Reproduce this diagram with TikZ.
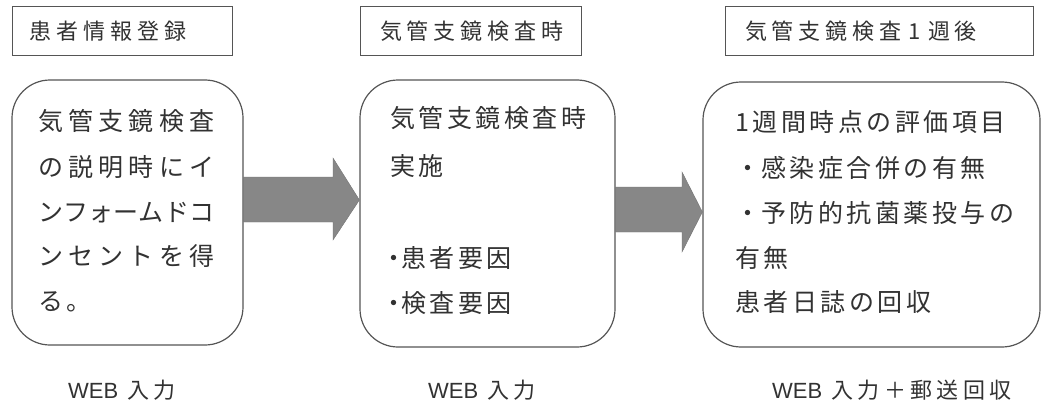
\documentclass[tikz,border=0pt]{standalone}
\usepackage{fontspec}
\newfontfamily\jp{Noto Sans CJK JP}[LetterSpace=14]
\newfontfamily\jpt{Noto Sans CJK JP}[LetterSpace=22]
\newfontfamily\jpn{Noto Sans CJK JP}[LetterSpace=20]
\newfontfamily\lat{Liberation Sans}
\usetikzlibrary{calc}
\definecolor{ink}{RGB}{50,50,50}
\definecolor{edge}{RGB}{85,85,85}
\definecolor{arrowgray}{RGB}{135,135,135}
\newcommand{\webtag}{{\lat\fontsize{22}{26}\selectfont WEB}\hspace{9pt}}
\tikzset{
  titlebox/.style={draw=edge, line width=1pt, minimum height=49pt, inner ysep=0pt,
    align=left, text=ink, font=\jpt\fontsize{22}{26}\selectfont},
  rbox/.style={draw=edge, line width=1.2pt, rounded corners=38pt, inner sep=0pt},
  bodyline/.style={anchor=base west, inner sep=0pt, text=ink, font=\jp\fontsize{25}{30}\selectfont},
  foot/.style={anchor=base west, inner sep=0pt, text=ink, font=\jpn\fontsize{22}{26}\selectfont},
  blockarrow/.style={fill=arrowgray, draw=arrowgray!85!black, line width=0.4pt}
}
\begin{document}
\begin{tikzpicture}[x=1pt,y=-1pt]
\useasboundingbox (0,0) rectangle (1042,404);
% title boxes
\node[titlebox, text width=184pt, inner xsep=18pt] (h1) at (122,31.5) {患者情報登録};
\node[titlebox, text width=181pt, inner xsep=20pt] (h2) at (470.5,31.5) {気管支鏡検査時};
\node[titlebox, text width=268pt, inner xsep=20pt] (h3) at (879,31.5) {気管支鏡検査 1 週後};
% rounded boxes
\node[rbox, minimum width=231pt, minimum height=265pt] (b1) at (127.5,212.5) {};
\node[rbox, minimum width=255pt, minimum height=267pt] (b2) at (487.5,213.5) {};
\node[rbox, minimum width=337pt, minimum height=265pt] (b3) at (871.5,214.5) {};
% arrows
\filldraw[blockarrow] (b1.east |- 0,177) -- (333,177) -- (333,158) -- (b2.west |- 0,200)
  -- (333,240) -- (333,222) -- (b1.east |- 0,222) -- cycle;
\filldraw[blockarrow] (b2.east |- 0,187) -- (682,187) -- (682,172) -- (b3.west |- 0,212)
  -- (682,252) -- (682,232) -- (b2.east |- 0,232) -- cycle;
% box 1 text
\node[bodyline] (t11) at (38,130) {\makebox[176pt][s]{気\hfill 管\hfill 支\hfill 鏡\hfill 検\hfill 査}};
\node[bodyline] (t12) at (38,176) {\makebox[176pt][s]{の\hfill 説\hfill 明\hfill 時\hfill に\hfill イ}};
\node[bodyline] (t13) at (38,221) {\makebox[176pt][s]{ン\hfill フ\hfill ォ\hfill ー\hfill ム\hfill ド\hfill コ}};
\node[bodyline] (t14) at (38,265) {\makebox[176pt][s]{ン\hfill セ\hfill ン\hfill ト\hfill を\hfill 得}};
\node[bodyline] (t15) at (38,310) {る。};
% box 2 text
\node[bodyline] (t21) at (390,128) {気管支鏡検査時};
\node[bodyline] (t22) at (390,175) {実施};
\node[bodyline] (t23) at (386,267) {\makebox[15pt][c]{・}患者要因};
\node[bodyline] (t24) at (386,312) {\makebox[15pt][c]{・}検査要因};
% box 3 text
\node[bodyline] (t31) at (735,131) {1週間時点の評価項目};
\node[bodyline] (t32) at (735,177) {\makebox[26pt][l]{・}感染症合併の有無};
\node[bodyline] (t33) at (735,222) {\makebox[26pt][l]{・}予防的抗菌薬投与の};
\node[bodyline] (t34) at (735,267) {有無};
\node[bodyline] (t35) at (735,311) {患者日誌の回収};
% footers
\node[foot] (f1) at (68,398) {\webtag 入力};
\node[foot] (f2) at (428,398) {\webtag 入力};
\node[foot] (f3) at (772,398) {\webtag 入力＋郵送回収};
\end{tikzpicture}
\end{document}
